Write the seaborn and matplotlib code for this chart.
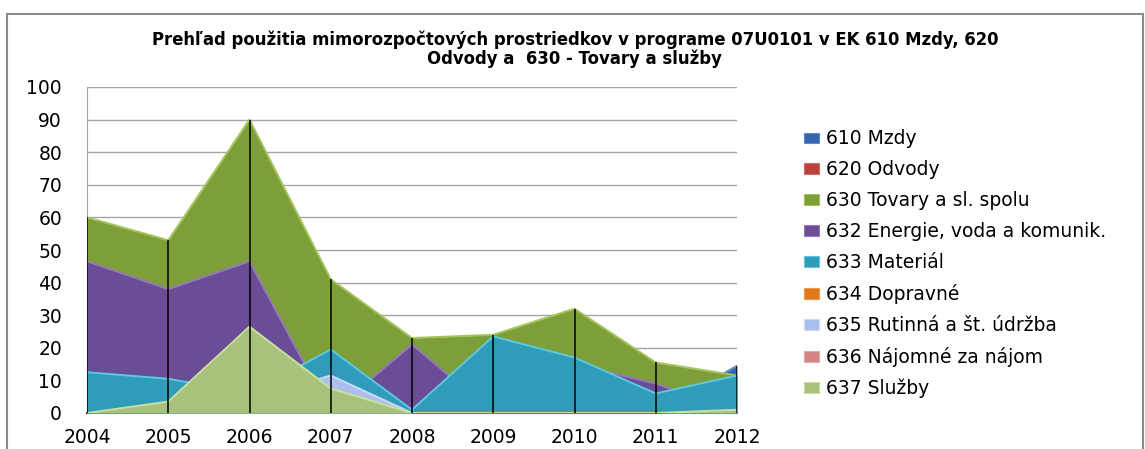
import numpy as np
import seaborn as sns
import matplotlib.pyplot as plt
from matplotlib.patches import Patch, Rectangle

# Prehľad mimorozpočtových prostriedkov 07U0101 - overlapping area chart

years = [2004, 2005, 2006, 2007, 2008, 2009, 2010, 2011, 2012]

s610 = [0, 0, 0, 0, 0, 0, 0, 0, 14.5]
s620 = [0, 0, 0, 0, 0, 0, 0, 0, 0]
s630 = [60, 53, 90, 41, 23, 24, 32, 15.5, 11.5]
s632 = [46.5, 38, 46.5, 0, 21, 0, 15, 9, 0]
s633 = [12.5, 10.5, 6, 19.5, 1, 23.5, 17, 6, 11.5]
s634 = [0, 0, 0, 0, 0, 0, 0, 0, 0]
s635 = [0, 0, 4, 11.5, 0, 0, 0, 0, 0]
s636 = [0, 0, 0, 0, 0, 0, 0, 0, 0]
s637 = [0, 3.5, 26.5, 7.5, 0, 0, 0, 0, 1]

labels = ["610 Mzdy", "620 Odvody", "630 Tovary a sl. spolu",
          "632 Energie, voda a komunik.", "633 Materiál", "634 Dopravné",
          "635 Rutinná a št. údržba", "636 Nájomné za nájom", "637 Služby"]
series = [s610, s620, s630, s632, s633, s634, s635, s636, s637]

colors = ["#3565AE", "#B8413D", "#7E9E3A", "#6B4D96", "#2F9DB9",
          "#E2781C", "#A9BFEC", "#D38583", "#A8C27C"]
edges = ["#5C8AD0", "#D86A66", "#A4C45A", "#9479BC", "#5CC8E2",
         "#F29A4A", "#CBDAF8", "#E8AAA8", "#C9E09F"]

title1 = "Prehľad použitia mimorozpočtových prostriedkov v programe 07U0101 v EK 610 Mzdy, 620"
title2 = "Odvody a  630 - Tovary a služby"

sns.set_style("white")
plt.rcParams['font.family'] = ['DejaVu Sans']
plt.rcParams['text.color'] = 'black'

W, H = 1145, 449
fig = plt.figure(figsize=(W / 100, H / 100), dpi=100)
ax = fig.add_axes([87 / W, 36 / H, 650 / W, 326 / H])

for i, (vals, col, ec) in enumerate(zip(series, colors, edges)):
    ax.fill_between(years, 0, vals, color=col, lw=0, zorder=2 + i)
    if max(vals) > 0:
        sns.lineplot(x=years, y=vals, color=ec, lw=1.4, ax=ax, zorder=2.5 + i)

# drop lines
tops = np.max(np.array(series), axis=0)
ax.vlines(years, 0, tops, color="black", lw=1.1, zorder=30)

ax.set_xlim(2004, 2012)
ax.set_ylim(0, 100)
ax.set_yticks(range(0, 101, 10))
ax.set_xticks(years)
ax.set_xticklabels([str(y) for y in years])
ax.yaxis.grid(True, color="#A6A6A6", lw=1)
ax.set_axisbelow(True)
ax.tick_params(axis="both", labelsize=13.5, length=0, colors="black")
ax.tick_params(axis="y", pad=18)
ax.tick_params(axis="x", pad=10.5)
for s in ["top", "right"]:
    ax.spines[s].set_visible(False)
ax.spines["left"].set_color("#A6A6A6")
ax.spines["bottom"].set_color("#404040")
ax.spines["bottom"].set_linewidth(1.5)
ax.set_xlabel("")
ax.set_ylabel("")

handles = [Patch(facecolor=c, edgecolor=e, lw=0.8) for c, e in zip(colors, edges)]
leg = fig.legend(handles, labels, loc="upper left", bbox_to_anchor=(796 / W, 1 - 122 / H),
                 frameon=False, fontsize=13.5, handlelength=0.85, handleheight=0.5,
                 handletextpad=0.35, labelspacing=0.635, borderaxespad=0)
for t in leg.get_texts():
    t.set_color("black")

fig.text(0.502, 1 - 40 / H, title1, ha="center", va="center", fontsize=11.9, fontweight="bold")
fig.text(0.502, 1 - 58.5 / H, title2, ha="center", va="center", fontsize=11.9, fontweight="bold")

fig.patches.append(Rectangle((7 / W, -0.05), (W - 9) / W, 1.05 - 14 / H,
                             transform=fig.transFigure, fill=False,
                             ec="#8C8C8C", lw=1.5))

fig.savefig("out.png", dpi=100)
